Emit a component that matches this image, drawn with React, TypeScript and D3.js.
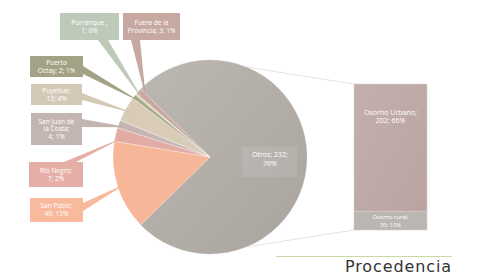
import React from "react";
import * as d3 from "d3";

const pieNames = ["Otros", "San Pablo", "Rio Negro", "San Juan de la Costa", "Puyehue", "Puerto Octay", "Purranque", "Fuera de la Provincia"];
const pieValues = [232, 46, 7, 4, 13, 2, 1, 3];
const pieLabelLines = [
  ["Otros; 232;", "76%"],
  ["San Pablo;", "46; 15%"],
  ["Rio Negro;", "7; 2%"],
  ["San Juan de", "la Costa;", "4; 1%"],
  ["Puyehue;", "13; 4%"],
  ["Puerto", "Octay; 2; 1%"],
  ["Purranque ;", "1; 0%"],
  ["Fuera de la", "Provincia; 3; 1%"],
];
const pieColors = ["#b3aea8", "#f8b698", "#e2aba3", "#c6b6b3", "#d8ccb8", "#a9a78b", "#d2dca8", "#caa7a0"];
const boxColors = [null, "#f8b597", "#e4aba2", "#c0b1ac", "#d2c6b2", "#9f9d7f", "#bac7b5", "#c4a49d"];

const barNames = ["Osorno Urbano", "Osorno rural"];
const barValues = [202, 30];
const barLabelLines = [["Osorno Urbano;", "202; 66%"], ["Osorno rural;", "30; 10%"]];
const barColors = ["#bea9a6", "#bab6b1"];

const title = "Procedencia";

// callout layout: box rect + pointer base on a side
const calloutLayout: Record<number, { x: number; y: number; w: number; h: number; side: string; b0: number; b1: number }> = {
  1: { x: 30, y: 198, w: 53, h: 24, side: "right", b0: 203, b1: 211 },
  2: { x: 29, y: 162, w: 54, h: 25, side: "top", b0: 64, b1: 76 },
  3: { x: 31, y: 113, w: 51, h: 32, side: "right", b0: 119, b1: 127 },
  4: { x: 31, y: 84, w: 51, h: 21, side: "right", b0: 93, b1: 100 },
  5: { x: 30, y: 56, w: 53, h: 21, side: "right", b0: 66, b1: 74 },
  6: { x: 60, y: 13, w: 59, h: 27, side: "bottom", b0: 98, b1: 108 },
  7: { x: 123, y: 13, w: 57, h: 27, side: "bottom", b0: 131, b1: 140 },
};

export default function App() {
  const W = 483, H = 277;
  const cx = 210, cy = 157, r = 97;
  const deg = Math.PI / 180;
  const total = d3.sum(pieValues);
  const otherSpan = (pieValues[0] / total) * 2 * Math.PI;
  const start = Math.PI / 2 - otherSpan / 2;
  const pie = d3.pie<number>().sort(null).startAngle(start).endAngle(start + 2 * Math.PI);
  const arcs = pie(pieValues);
  const arc = d3.arc<d3.PieArcDatum<number>>().innerRadius(0).outerRadius(r);
  const tipArc = d3.arc<d3.PieArcDatum<number>>().innerRadius(r * 0.9).outerRadius(r * 0.9);

  const barX = 354, barW = 73, barTop = 84, barBottom = 230;
  const y = d3.scaleLinear().domain([0, d3.sum(barValues)]).range([barBottom, barTop]);
  const stackOrder = [1, 0];
  let acc2 = 0;
  const segs = stackOrder.map((i) => {
    const v = barValues[i];
    const yb = y(acc2), yt = y(acc2 + v);
    acc2 += v;
    return { i, yb, yt };
  });

  const topPt = [cx + r * Math.cos(-68 * deg), cy + r * Math.sin(-68 * deg)];
  const botPt = [cx + r * Math.cos(68 * deg), cy + r * Math.sin(68 * deg)];

  const calloutPath = (k: number, tip: [number, number]) => {
    const L = calloutLayout[k];
    const { x, y: yy, w, h, side, b0, b1 } = L;
    const x2 = x + w, y2 = yy + h;
    if (side === "right") return `M${x},${yy}H${x2}V${b0}L${tip[0]},${tip[1]}L${x2},${b1}V${y2}H${x}Z`;
    if (side === "bottom") return `M${x},${yy}H${x2}V${y2}H${b1}L${tip[0]},${tip[1]}L${b0},${y2}H${x}Z`;
    return `M${x},${yy}H${b0}L${tip[0]},${tip[1]}L${b1},${yy}H${x2}V${y2}H${x}Z`;
  };

  const font = "'Open Sans', 'DejaVu Sans', sans-serif";

  return (
    <svg width={W} height={H} style={{ position: "absolute", left: 0, top: 0, background: "#fff" }}>
      <defs>
        <linearGradient id="gOtros" x1="0" y1="0" x2="1" y2="1">
          <stop offset="0%" stopColor="#bcb7b1" />
          <stop offset="100%" stopColor="#a9a49e" />
        </linearGradient>
        <linearGradient id="gBar" x1="0" y1="0" x2="1" y2="1">
          <stop offset="0%" stopColor="#c3afac" />
          <stop offset="100%" stopColor="#b9a4a1" />
        </linearGradient>
      </defs>
      <line x1={topPt[0]} y1={topPt[1]} x2={barX} y2={barTop} stroke="#e4e4e4" strokeWidth={1} />
      <line x1={botPt[0]} y1={botPt[1]} x2={barX} y2={barBottom} stroke="#e4e4e4" strokeWidth={1} />
      <g transform={`translate(${cx},${cy})`}>
        {arcs.map((a, i) => (
          <path key={i} d={arc(a) || ""} fill={i === 0 ? "url(#gOtros)" : pieColors[i]} stroke={i === 0 ? "#c9c5c0" : "#ffffff"} strokeOpacity={0.5} strokeWidth={0.6} />
        ))}
      </g>
      {arcs.map((a, i) => {
        if (i === 0) return null;
        const c = tipArc.centroid(a);
        const tip: [number, number] = [cx + c[0], cy + c[1]];
        const L = calloutLayout[i];
        const lines = pieLabelLines[i];
        const lh = 7.8;
        const midY = L.y + L.h / 2 - ((lines.length - 1) * lh) / 2;
        return (
          <g key={i}>
            <path d={calloutPath(i, tip)} fill={boxColors[i] as string} opacity={0.95} />
            {lines.map((t, j) => (
              <text key={j} x={L.x + L.w / 2} y={midY + j * lh} dy="0.35em" textAnchor="middle" fontSize={6.6} fill="#fff" fontFamily={font}>{t}</text>
            ))}
          </g>
        );
      })}
      <rect x={242} y={147} width={55} height={30} fill="#ffffff" opacity={0.1} />
      {pieLabelLines[0].map((t, j) => (
        <text key={j} x={270} y={155 + j * 8.5} dy="0.35em" textAnchor="middle" fontSize={7} fill="#fff" fontFamily={font}>{t}</text>
      ))}
      {segs.map((s) => (
        <rect key={s.i} x={barX} y={s.yt} width={barW} height={s.yb - s.yt} fill={s.i === 0 ? "url(#gBar)" : barColors[s.i]} stroke="#d8cfcc" strokeWidth={0.5} />
      ))}
      {segs.map((s) => {
        const lines = barLabelLines[s.i];
        const y0 = s.i === 0 ? s.yt + 29 : s.yt + 6;
        return lines.map((t, j) => (
          <text key={`${s.i}-${j}`} x={barX + barW / 2} y={y0 + j * 8} dy="0.35em" textAnchor="middle" fontSize={s.i === 0 ? 7 : 5.8} fill="#fff" fontFamily={font}>{t}</text>
        ));
      })}
      <line x1={276} y1={256.5} x2={452} y2={256.5} stroke="#c6dca2" strokeWidth={1.2} />
      <text x={452} y={272} textAnchor="end" fontSize={16} letterSpacing={0.9} fill="#333" fontFamily="'DejaVu Sans', sans-serif">{title}</text>
    </svg>
  );
}
